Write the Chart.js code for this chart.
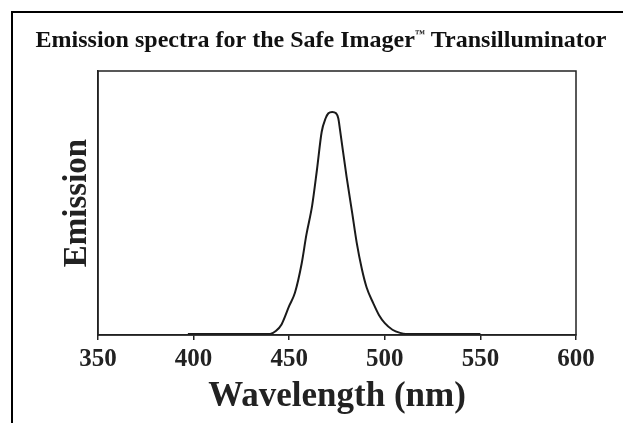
<!DOCTYPE html>
<html>
<head>
<meta charset="utf-8">
<script src="https://cdn.jsdelivr.net/npm/chart.js@4.4.1/dist/chart.umd.min.js"></script>
<style>
  html, body { margin: 0; padding: 0; background: #fff; }
  #wrap { width: 623px; height: 423px; }
</style>
</head>
<body>
<div id="wrap"><canvas id="chart" width="623" height="423"></canvas></div>
<script>
// Emission spectrum (wavelength in nm, relative emission)
const wavelengths = [397, 420, 440, 443, 446, 450, 453, 456.5, 459, 462, 464.5, 467, 469, 470.5, 472.5, 474.5, 475.7, 476.6, 480, 483, 485.3, 488, 490.5, 494, 497, 500, 504, 508, 511, 530, 550]
const emission = [0.004, 0.004, 0.004, 0.015, 0.04, 0.11, 0.16, 0.27, 0.38, 0.49, 0.625, 0.77, 0.82, 0.84, 0.845, 0.84, 0.82, 0.776, 0.6, 0.46, 0.35, 0.25, 0.18, 0.12, 0.075, 0.045, 0.02, 0.008, 0.004, 0.004, 0.004]
const xTicks = [350, 400, 450, 500, 550, 600]

// heading in three parts so the trademark sign can sit small and raised
const titleParts = ["Emission spectra for the Safe Imager", "\u2122", " Transilluminator"]
const serif = "'Liberation Serif', 'DejaVu Serif', serif"
const ink = "#222"

const points = wavelengths.map((w, i) => ({ x: w, y: emission[i] }))

// page frame, plot box and heading
const decorPlugin = {
  id: "decor",
  beforeDraw(chart) {
    const ctx = chart.ctx
    ctx.save()
    ctx.fillStyle = "#fff"
    ctx.fillRect(0, 0, chart.width, chart.height)
    ctx.strokeStyle = "#000"
    ctx.lineWidth = 2
    ctx.beginPath()
    ctx.moveTo(12, chart.height)
    ctx.lineTo(12, 12)
    ctx.lineTo(chart.width, 12)
    ctx.stroke()
    ctx.restore()
  },
  afterDraw(chart) {
    const ctx = chart.ctx
    const a = chart.chartArea
    ctx.save()
    ctx.strokeStyle = ink
    ctx.lineWidth = 1.5
    ctx.strokeRect(a.left, a.top, a.right - a.left, a.bottom - a.top)

    const big = "bold 24px " + serif
    const small = "bold 10px " + serif
    ctx.font = big
    const w0 = ctx.measureText(titleParts[0]).width
    const w2 = ctx.measureText(titleParts[2]).width
    ctx.font = small
    const w1 = ctx.measureText(titleParts[1]).width
    let x = 321 - (w0 + w1 + w2) / 2
    const base = 47
    ctx.fillStyle = "#111"
    ctx.textAlign = "left"
    ctx.textBaseline = "alphabetic"
    ctx.font = big
    ctx.fillText(titleParts[0], x, base)
    x += w0
    ctx.font = small
    ctx.fillText(titleParts[1], x, base - 10)
    x += w1
    ctx.font = big
    ctx.fillText(titleParts[2], x, base)
    ctx.restore()
  }
}

new Chart(document.getElementById("chart"), {
  type: "line",
  data: {
    datasets: [
      {
        data: points,
        borderColor: "#1a1a1a",
        borderWidth: 2,
        pointRadius: 0,
        fill: false,
        cubicInterpolationMode: "monotone"
      }
    ]
  },
  options: {
    responsive: false,
    animation: false,
    layout: { padding: { top: 71, right: 47, left: 0, bottom: 0 } },
    plugins: {
      legend: { display: false },
      tooltip: { enabled: false }
    },
    scales: {
      x: {
        type: "linear",
        min: 350,
        max: 600,
        afterBuildTicks: (scale) => {
          scale.ticks = xTicks.map((v) => ({ value: v }))
        },
        afterFit: (scale) => {
          scale.height = 88
        },
        grid: { display: true, drawOnChartArea: false, tickLength: 5, color: ink, lineWidth: 1.5 },
        border: { display: true, color: ink, width: 1.5 },
        ticks: { color: ink, font: { family: serif, size: 25, weight: "bold" }, padding: 5, maxRotation: 0 },
        title: {
          display: true,
          text: "Wavelength (nm)",
          color: ink,
          font: { family: serif, size: 35, weight: "bold" },
          padding: { top: 0, bottom: 5 }
        }
      },
      y: {
        min: 0,
        max: 1,
        afterFit: (scale) => {
          scale.width = 98
        },
        grid: { display: false },
        border: { display: true, color: ink, width: 1.5 },
        ticks: { display: false },
        title: {
          display: true,
          text: "Emission",
          color: ink,
          font: { family: serif, size: 33, weight: "bold" },
          padding: { top: 58, bottom: 0 }
        }
      }
    }
  },
  plugins: [decorPlugin]
})
</script>
</body>
</html>
